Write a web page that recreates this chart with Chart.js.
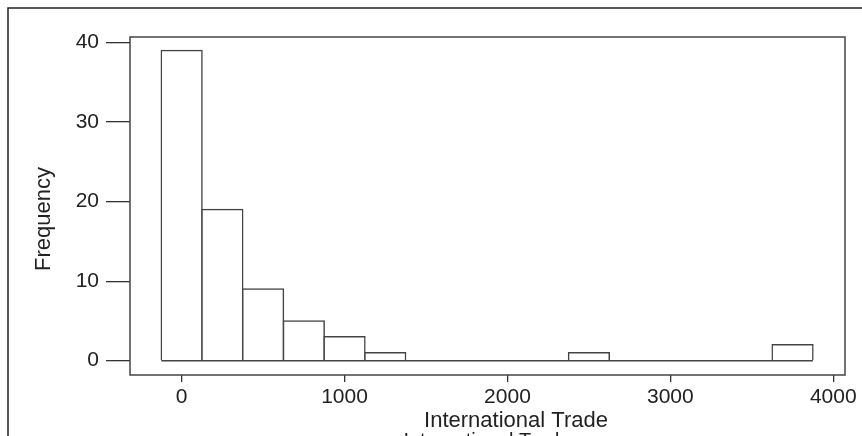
<!DOCTYPE html>
<html>
<head>
<meta charset="utf-8">
<script src="https://cdn.jsdelivr.net/npm/chart.js@4"></script>
<style>
  html, body { margin: 0; padding: 0; background: #fff; }
  canvas { display: block; }
</style>
</head>
<body>
<canvas id="hist" width="862" height="436"></canvas>
<script>
// bin centres (width 250) and counts
const binCenters = [0, 250, 500, 750, 1000, 1250, 1500, 1750, 2000, 2250, 2500, 2750, 3000, 3250, 3500, 3750];
const counts = [39, 19, 9, 5, 3, 1, 0, 0, 0, 0, 1, 0, 0, 0, 0, 2];
const binWidth = 250;
const xTicks = [0, 1000, 2000, 3000, 4000];
const yTicks = [0, 10, 20, 30, 40];
const xTitle = 'International Trade';
const yTitle = 'Frequency';

const FONT = '"Liberation Sans", Arial, sans-serif';
const INK = '#333';

// frame, titles and the outer border
const framePlugin = {
    id: 'frame',
    beforeDraw(chart) {
        const c = chart.ctx;
        c.save();
        c.fillStyle = '#fff';
        c.fillRect(0, 0, chart.width, chart.height);
        c.restore();
    },
    afterDraw(chart) {
        const c = chart.ctx;
        const a = chart.chartArea;
        c.save();
        c.strokeStyle = '#444';
        c.lineWidth = 1.5;
        c.strokeRect(a.left, a.top, a.right - a.left, a.bottom - a.top);

        // outer border (top and left)
        c.strokeStyle = '#222';
        c.lineWidth = 1.5;
        c.beginPath();
        c.moveTo(8, chart.height);
        c.lineTo(8, 8);
        c.lineTo(chart.width, 8);
        c.stroke();

        c.fillStyle = '#222';
        c.textAlign = 'center';
        c.textBaseline = 'alphabetic';
        c.font = '22px ' + FONT;
        c.fillText(xTitle, 516, 427);

        // clipped copy under the title
        c.font = '20px ' + FONT;
        c.fillText(xTitle, 487, 447);

        c.translate(50, 219);
        c.rotate(-Math.PI / 2);
        c.font = '22px ' + FONT;
        c.fillText(yTitle, 0, 0);
        c.restore();
    }
};

new Chart(document.getElementById('hist'), {
    type: 'bar',
    data: {
        datasets: [
            {
                type: 'line',
                data: [
                    { x: binCenters[0] - binWidth / 2, y: 0 },
                    { x: binCenters[binCenters.length - 1] + binWidth / 2, y: 0 }
                ],
                borderColor: '#444',
                borderWidth: 1.5,
                pointRadius: 0,
                order: 0
            },
            {
                data: binCenters.map((x, i) => ({ x: x, y: counts[i] })),
                backgroundColor: '#fff',
                borderColor: '#444',
                borderWidth: 1.5,
                inflateAmount: 0.75,
                barPercentage: 1,
                categoryPercentage: 1,
                order: 1
            }
        ]
    },
    options: {
        responsive: false,
        animation: false,
        layout: { padding: { top: 37, right: 17, left: 0, bottom: 0 } },
        plugins: {
            legend: { display: false },
            tooltip: { enabled: false }
        },
        scales: {
            x: {
                type: 'linear',
                offset: false,
                min: -317,
                max: 4072,
                afterBuildTicks: s => { s.ticks = xTicks.map(v => ({ value: v })); },
                afterFit: s => { s.height = 61; },
                border: { display: false },
                grid: { offset: false, drawOnChartArea: false, tickLength: 7, color: INK, lineWidth: 1.3 },
                ticks: {
                    padding: 3,
                    color: '#222',
                    font: { family: FONT, size: 21 },
                    maxRotation: 0,
                    callback: v => String(v)
                }
            },
            y: {
                min: -1.8,
                max: 40.7,
                afterBuildTicks: s => { s.ticks = yTicks.map(v => ({ value: v })); },
                afterFit: s => { s.width = 130; },
                border: { display: false },
                grid: { drawOnChartArea: false, tickLength: 24, color: INK, lineWidth: 1.3 },
                ticks: {
                    padding: 7,
                    color: '#222',
                    font: { family: FONT, size: 21 }
                }
            }
        }
    },
    plugins: [framePlugin]
});
</script>
</body>
</html>
